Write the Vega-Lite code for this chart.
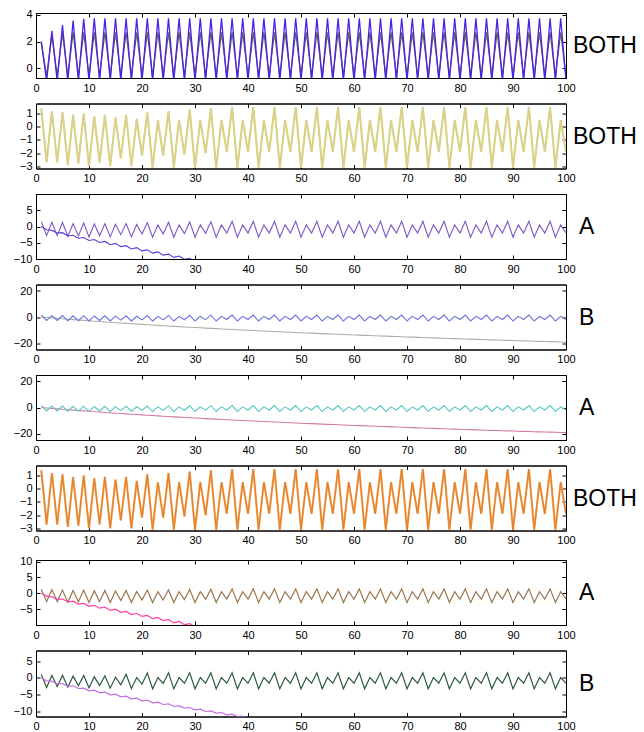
{
"$schema": "https://vega.github.io/schema/vega-lite/v6.json",
"autosize": {"type": "pad"},
"padding": {"left": 12, "top": 8, "right": 0, "bottom": 0},
"spacing": 8.5,
"background": "white",
"config": {
 "font": "Liberation Sans",
 "view": {"stroke": "#000", "strokeWidth": 1},
 "axis": {"grid": false, "domain": true, "domainColor": "#000", "domainWidth": 1, "tickColor": "#000", "tickSize": -4, "tickWidth": 1, "labelColor": "#000", "labelFontSize": 11, "labelFont": "Liberation Sans", "labelPadding": 8, "labelFlush": false, "labelOverlap": false, "titleColor": "#000", "titleFont": "Liberation Sans", "titleFontWeight": "normal", "titleFontSize": 23}
},
"datasets": {"d": [
{"x":1,"p1a":1.9,"p1b":2,"w":1.4,"p3a":1.5,"p3b":0,"f":0,"p7a":1.3,"p7b":0,"p8a":1.0,"p8b":0},
{"x":2,"p1a":-0.6,"p1b":-1,"w":-2.7,"p3a":-2.8,"p3b":-1.0,"f":-0.35,"p7a":-2.6,"p7b":-0.9,"p8a":-2.9,"p8b":-0.9},
{"x":3,"p1a":2.5,"p1b":2.8,"w":1.2,"p3a":1.3,"p3b":-1.2,"f":-0.69,"p7a":1.1,"p7b":-1.1,"p8a":0.7,"p8b":-1.0},
{"x":4,"p1a":-0.6,"p1b":-1,"w":-2.7,"p3a":-2.8,"p3b":-2.0,"f":-1.03,"p7a":-2.6,"p7b":-1.9,"p8a":-2.6,"p8b":-1.8},
{"x":5,"p1a":2.65,"p1b":3.25,"w":1.1,"p3a":1.2,"p3b":-1.9,"f":-1.36,"p7a":1.0,"p7b":-1.8,"p8a":0.8,"p8b":-1.7},
{"x":6,"p1a":-0.6,"p1b":-1,"w":-2.9,"p3a":-3.0,"p3b":-2.9,"f":-1.69,"p7a":-2.8,"p7b":-2.7,"p8a":-2.8,"p8b":-2.6},
{"x":7,"p1a":2.7,"p1b":3.58,"w":0.9,"p3a":0.9,"p3b":-2.7,"f":-2.01,"p7a":0.9,"p7b":-2.5,"p8a":0.5,"p8b":-2.4},
{"x":8,"p1a":-0.6,"p1b":-1,"w":-2.8,"p3a":-2.9,"p3b":-3.6,"f":-2.32,"p7a":-2.7,"p7b":-3.4,"p8a":-2.4,"p8b":-3.2},
{"x":9,"p1a":2.7,"p1b":3.72,"w":1.0,"p3a":1.1,"p3b":-3.4,"f":-2.63,"p7a":1.0,"p7b":-3.2,"p8a":0.7,"p8b":-3.1},
{"x":10,"p1a":-0.6,"p1b":-1,"w":-3.0,"p3a":-3.2,"p3b":-4.3,"f":-2.93,"p7a":-2.9,"p7b":-4.1,"p8a":-3.0,"p8b":-3.9},
{"x":11,"p1a":2.7,"p1b":3.75,"w":0.8,"p3a":0.8,"p3b":-4.0,"f":-3.23,"p7a":0.8,"p7b":-3.8,"p8a":0.3,"p8b":-3.7},
{"x":12,"p1a":-0.6,"p1b":-1,"w":-2.7,"p3a":-2.8,"p3b":-4.9,"f":-3.52,"p7a":-2.6,"p7b":-4.7,"p8a":-2.3,"p8b":-4.5},
{"x":13,"p1a":2.7,"p1b":3.75,"w":0.9,"p3a":0.9,"p3b":-4.6,"f":-3.81,"p7a":0.9,"p7b":-4.4,"p8a":0.6,"p8b":-4.3},
{"x":14,"p1a":-0.6,"p1b":-1,"w":-3.0,"p3a":-3.2,"p3b":-5.6,"f":-4.09,"p7a":-2.9,"p7b":-5.4,"p8a":-3.1,"p8b":-5.1},
{"x":15,"p1a":2.7,"p1b":3.75,"w":0.7,"p3a":0.7,"p3b":-5.2,"f":-4.37,"p7a":0.7,"p7b":-5.0,"p8a":0.2,"p8b":-4.9},
{"x":16,"p1a":-0.6,"p1b":-1,"w":-2.4,"p3a":-2.5,"p3b":-6.2,"f":-4.64,"p7a":-2.3,"p7b":-6.0,"p8a":-2.1,"p8b":-5.7},
{"x":17,"p1a":2.7,"p1b":3.75,"w":0.9,"p3a":0.9,"p3b":-5.9,"f":-4.91,"p7a":0.9,"p7b":-5.7,"p8a":1.1,"p8b":-5.5},
{"x":18,"p1a":-0.6,"p1b":-1,"w":-3.0,"p3a":-3.2,"p3b":-6.9,"f":-5.18,"p7a":-2.9,"p7b":-6.7,"p8a":-3.2,"p8b":-6.3},
{"x":19,"p1a":2.7,"p1b":3.75,"w":0.6,"p3a":0.6,"p3b":-6.5,"f":-5.44,"p7a":0.6,"p7b":-6.3,"p8a":0.1,"p8b":-6.1},
{"x":20,"p1a":-0.6,"p1b":-1,"w":-2.2,"p3a":-2.3,"p3b":-7.5,"f":-5.70,"p7a":-2.1,"p7b":-7.3,"p8a":-1.9,"p8b":-6.9},
{"x":21,"p1a":2.7,"p1b":3.75,"w":1.1,"p3a":1.2,"p3b":-7.2,"f":-5.96,"p7a":1.0,"p7b":-7.0,"p8a":1.5,"p8b":-6.7},
{"x":22,"p1a":-0.6,"p1b":-1,"w":-3.1,"p3a":-3.3,"p3b":-8.2,"f":-6.21,"p7a":-2.9,"p7b":-8.0,"p8a":-3.3,"p8b":-7.5},
{"x":23,"p1a":2.7,"p1b":3.75,"w":0.5,"p3a":0.5,"p3b":-7.8,"f":-6.45,"p7a":0.5,"p7b":-7.6,"p8a":0.1,"p8b":-7.3},
{"x":24,"p1a":-0.6,"p1b":-1,"w":-2.2,"p3a":-2.3,"p3b":-8.8,"f":-6.70,"p7a":-2.1,"p7b":-8.6,"p8a":-1.7,"p8b":-8.0},
{"x":25,"p1a":2.7,"p1b":3.75,"w":1.2,"p3a":1.3,"p3b":-8.5,"f":-6.94,"p7a":1.1,"p7b":-8.3,"p8a":1.5,"p8b":-7.8},
{"x":26,"p1a":-0.6,"p1b":-1,"w":-3.1,"p3a":-3.3,"p3b":-9.5,"f":-7.18,"p7a":-2.9,"p7b":-9.3,"p8a":-3.3,"p8b":-8.6},
{"x":27,"p1a":2.7,"p1b":3.75,"w":0.5,"p3a":0.5,"p3b":-9.1,"f":-7.41,"p7a":0.5,"p7b":-8.9,"p8a":0.1,"p8b":-8.4},
{"x":28,"p1a":-0.6,"p1b":-1,"w":-2.1,"p3a":-2.2,"p3b":-10.1,"f":-7.64,"p7a":-2.0,"p7b":-9.9,"p8a":-1.6,"p8b":-9.1},
{"x":29,"p1a":2.7,"p1b":3.75,"w":1.3,"p3a":1.4,"p3b":-9.8,"f":-7.87,"p7a":1.2,"p7b":-9.6,"p8a":1.5,"p8b":-8.9},
{"x":30,"p1a":-0.6,"p1b":-1,"w":-3.1,"p3a":-3.3,"p3b":-10.8,"f":-8.10,"p7a":-2.9,"p7b":-10.6,"p8a":-3.3,"p8b":-9.6},
{"x":31,"p1a":2.7,"p1b":3.75,"w":0.5,"p3a":0.5,"p3b":-10.4,"f":-8.32,"p7a":0.5,"p7b":-10.2,"p8a":0.1,"p8b":-9.4},
{"x":32,"p1a":-0.6,"p1b":-1,"w":-2.0,"p3a":-2.1,"p3b":-11.4,"f":-8.54,"p7a":-1.9,"p7b":-11.2,"p8a":-1.6,"p8b":-10.1},
{"x":33,"p1a":2.7,"p1b":3.75,"w":1.4,"p3a":1.5,"f":-8.76,"p7a":1.3,"p8a":1.5,"p8b":-9.9},
{"x":34,"p1a":-0.6,"p1b":-1,"w":-3.1,"p3a":-3.3,"f":-8.97,"p7a":-2.9,"p8a":-3.3,"p8b":-10.6},
{"x":35,"p1a":2.7,"p1b":3.75,"w":0.5,"p3a":0.5,"f":-9.18,"p7a":0.5,"p8a":0.1,"p8b":-10.4},
{"x":36,"p1a":-0.6,"p1b":-1,"w":-1.9,"p3a":-2.0,"f":-9.39,"p7a":-1.8,"p8a":-1.6,"p8b":-11.1},
{"x":37,"p1a":2.7,"p1b":3.75,"w":1.5,"p3a":1.6,"f":-9.60,"p7a":1.4,"p8a":1.5,"p8b":-10.9},
{"x":38,"p1a":-0.6,"p1b":-1,"w":-3.1,"p3a":-3.3,"f":-9.80,"p7a":-2.9,"p8a":-3.3,"p8b":-11.6},
{"x":39,"p1a":2.7,"p1b":3.75,"w":0.5,"p3a":0.5,"f":-10.01,"p7a":0.5,"p8a":0.1,"p8b":-11.5},
{"x":40,"p1a":-0.6,"p1b":-1,"w":-1.9,"p3a":-2.0,"f":-10.21,"p7a":-1.8,"p8a":-1.6,"p8b":-12.1},
{"x":41,"p1a":2.7,"p1b":3.75,"w":1.5,"p3a":1.6,"f":-10.40,"p7a":1.4,"p8a":1.5,"p8b":-12.0},
{"x":42,"p1a":-0.6,"p1b":-1,"w":-3.1,"p3a":-3.3,"f":-10.60,"p7a":-2.9,"p8a":-3.3},
{"x":43,"p1a":2.7,"p1b":3.75,"w":0.5,"p3a":0.5,"f":-10.79,"p7a":0.5,"p8a":0.1},
{"x":44,"p1a":-0.6,"p1b":-1,"w":-1.9,"p3a":-2.0,"f":-10.98,"p7a":-1.8,"p8a":-1.6},
{"x":45,"p1a":2.7,"p1b":3.75,"w":1.5,"p3a":1.6,"f":-11.17,"p7a":1.4,"p8a":1.5},
{"x":46,"p1a":-0.6,"p1b":-1,"w":-3.1,"p3a":-3.3,"f":-11.36,"p7a":-2.9,"p8a":-3.3},
{"x":47,"p1a":2.7,"p1b":3.75,"w":0.5,"p3a":0.5,"f":-11.55,"p7a":0.5,"p8a":0.1},
{"x":48,"p1a":-0.6,"p1b":-1,"w":-1.9,"p3a":-2.0,"f":-11.73,"p7a":-1.8,"p8a":-1.6},
{"x":49,"p1a":2.7,"p1b":3.75,"w":1.5,"p3a":1.6,"f":-11.91,"p7a":1.4,"p8a":1.5},
{"x":50,"p1a":-0.6,"p1b":-1,"w":-3.1,"p3a":-3.3,"f":-12.09,"p7a":-2.9,"p8a":-3.3},
{"x":51,"p1a":2.7,"p1b":3.75,"w":0.5,"p3a":0.5,"f":-12.27,"p7a":0.5,"p8a":0.1},
{"x":52,"p1a":-0.6,"p1b":-1,"w":-1.9,"p3a":-2.0,"f":-12.44,"p7a":-1.8,"p8a":-1.6},
{"x":53,"p1a":2.7,"p1b":3.75,"w":1.5,"p3a":1.6,"f":-12.62,"p7a":1.4,"p8a":1.5},
{"x":54,"p1a":-0.6,"p1b":-1,"w":-3.1,"p3a":-3.3,"f":-12.79,"p7a":-2.9,"p8a":-3.3},
{"x":55,"p1a":2.7,"p1b":3.75,"w":0.5,"p3a":0.5,"f":-12.96,"p7a":0.5,"p8a":0.1},
{"x":56,"p1a":-0.6,"p1b":-1,"w":-1.9,"p3a":-2.0,"f":-13.13,"p7a":-1.8,"p8a":-1.6},
{"x":57,"p1a":2.7,"p1b":3.75,"w":1.5,"p3a":1.6,"f":-13.30,"p7a":1.4,"p8a":1.5},
{"x":58,"p1a":-0.6,"p1b":-1,"w":-3.1,"p3a":-3.3,"f":-13.47,"p7a":-2.9,"p8a":-3.3},
{"x":59,"p1a":2.7,"p1b":3.75,"w":0.5,"p3a":0.5,"f":-13.63,"p7a":0.5,"p8a":0.1},
{"x":60,"p1a":-0.6,"p1b":-1,"w":-1.9,"p3a":-2.0,"f":-13.79,"p7a":-1.8,"p8a":-1.6},
{"x":61,"p1a":2.7,"p1b":3.75,"w":1.5,"p3a":1.6,"f":-13.96,"p7a":1.4,"p8a":1.5},
{"x":62,"p1a":-0.6,"p1b":-1,"w":-3.1,"p3a":-3.3,"f":-14.12,"p7a":-2.9,"p8a":-3.3},
{"x":63,"p1a":2.7,"p1b":3.75,"w":0.5,"p3a":0.5,"f":-14.28,"p7a":0.5,"p8a":0.1},
{"x":64,"p1a":-0.6,"p1b":-1,"w":-1.9,"p3a":-2.0,"f":-14.43,"p7a":-1.8,"p8a":-1.6},
{"x":65,"p1a":2.7,"p1b":3.75,"w":1.5,"p3a":1.6,"f":-14.59,"p7a":1.4,"p8a":1.5},
{"x":66,"p1a":-0.6,"p1b":-1,"w":-3.1,"p3a":-3.3,"f":-14.74,"p7a":-2.9,"p8a":-3.3},
{"x":67,"p1a":2.7,"p1b":3.75,"w":0.5,"p3a":0.5,"f":-14.90,"p7a":0.5,"p8a":0.1},
{"x":68,"p1a":-0.6,"p1b":-1,"w":-1.9,"p3a":-2.0,"f":-15.05,"p7a":-1.8,"p8a":-1.6},
{"x":69,"p1a":2.7,"p1b":3.75,"w":1.5,"p3a":1.6,"f":-15.20,"p7a":1.4,"p8a":1.5},
{"x":70,"p1a":-0.6,"p1b":-1,"w":-3.1,"p3a":-3.3,"f":-15.35,"p7a":-2.9,"p8a":-3.3},
{"x":71,"p1a":2.7,"p1b":3.75,"w":0.5,"p3a":0.5,"f":-15.50,"p7a":0.5,"p8a":0.1},
{"x":72,"p1a":-0.6,"p1b":-1,"w":-1.9,"p3a":-2.0,"f":-15.64,"p7a":-1.8,"p8a":-1.6},
{"x":73,"p1a":2.7,"p1b":3.75,"w":1.5,"p3a":1.6,"f":-15.79,"p7a":1.4,"p8a":1.5},
{"x":74,"p1a":-0.6,"p1b":-1,"w":-3.1,"p3a":-3.3,"f":-15.93,"p7a":-2.9,"p8a":-3.3},
{"x":75,"p1a":2.7,"p1b":3.75,"w":0.5,"p3a":0.5,"f":-16.08,"p7a":0.5,"p8a":0.1},
{"x":76,"p1a":-0.6,"p1b":-1,"w":-1.9,"p3a":-2.0,"f":-16.22,"p7a":-1.8,"p8a":-1.6},
{"x":77,"p1a":2.7,"p1b":3.75,"w":1.5,"p3a":1.6,"f":-16.36,"p7a":1.4,"p8a":1.5},
{"x":78,"p1a":-0.6,"p1b":-1,"w":-3.1,"p3a":-3.3,"f":-16.50,"p7a":-2.9,"p8a":-3.3},
{"x":79,"p1a":2.7,"p1b":3.75,"w":0.5,"p3a":0.5,"f":-16.64,"p7a":0.5,"p8a":0.1},
{"x":80,"p1a":-0.6,"p1b":-1,"w":-1.9,"p3a":-2.0,"f":-16.78,"p7a":-1.8,"p8a":-1.6},
{"x":81,"p1a":2.7,"p1b":3.75,"w":1.5,"p3a":1.6,"f":-16.91,"p7a":1.4,"p8a":1.5},
{"x":82,"p1a":-0.6,"p1b":-1,"w":-3.1,"p3a":-3.3,"f":-17.05,"p7a":-2.9,"p8a":-3.3},
{"x":83,"p1a":2.7,"p1b":3.75,"w":0.5,"p3a":0.5,"f":-17.18,"p7a":0.5,"p8a":0.1},
{"x":84,"p1a":-0.6,"p1b":-1,"w":-1.9,"p3a":-2.0,"f":-17.32,"p7a":-1.8,"p8a":-1.6},
{"x":85,"p1a":2.7,"p1b":3.75,"w":1.5,"p3a":1.6,"f":-17.45,"p7a":1.4,"p8a":1.5},
{"x":86,"p1a":-0.6,"p1b":-1,"w":-3.1,"p3a":-3.3,"f":-17.58,"p7a":-2.9,"p8a":-3.3},
{"x":87,"p1a":2.7,"p1b":3.75,"w":0.5,"p3a":0.5,"f":-17.71,"p7a":0.5,"p8a":0.1},
{"x":88,"p1a":-0.6,"p1b":-1,"w":-1.9,"p3a":-2.0,"f":-17.84,"p7a":-1.8,"p8a":-1.6},
{"x":89,"p1a":2.7,"p1b":3.75,"w":1.5,"p3a":1.6,"f":-17.97,"p7a":1.4,"p8a":1.5},
{"x":90,"p1a":-0.6,"p1b":-1,"w":-3.1,"p3a":-3.3,"f":-18.10,"p7a":-2.9,"p8a":-3.3},
{"x":91,"p1a":2.7,"p1b":3.75,"w":0.5,"p3a":0.5,"f":-18.22,"p7a":0.5,"p8a":0.1},
{"x":92,"p1a":-0.6,"p1b":-1,"w":-1.9,"p3a":-2.0,"f":-18.35,"p7a":-1.8,"p8a":-1.6},
{"x":93,"p1a":2.7,"p1b":3.75,"w":1.5,"p3a":1.6,"f":-18.48,"p7a":1.4,"p8a":1.5},
{"x":94,"p1a":-0.6,"p1b":-1,"w":-3.1,"p3a":-3.3,"f":-18.60,"p7a":-2.9,"p8a":-3.3},
{"x":95,"p1a":2.7,"p1b":3.75,"w":0.5,"p3a":0.5,"f":-18.72,"p7a":0.5,"p8a":0.1},
{"x":96,"p1a":-0.6,"p1b":-1,"w":-1.9,"p3a":-2.0,"f":-18.84,"p7a":-1.8,"p8a":-1.6},
{"x":97,"p1a":2.7,"p1b":3.75,"w":1.5,"p3a":1.6,"f":-18.97,"p7a":1.4,"p8a":1.5},
{"x":98,"p1a":-0.6,"p1b":-1,"w":-3.1,"p3a":-3.3,"f":-19.09,"p7a":-2.9,"p8a":-3.3},
{"x":99,"p1a":2.7,"p1b":3.75,"w":0.5,"p3a":0.5,"f":-19.21,"p7a":0.5,"p8a":0.1},
{"x":100,"p1a":-0.6,"p1b":-1,"w":-1.9,"p3a":-2.0,"f":-19.33,"p7a":-1.8,"p8a":-1.6}
]},
"data": {"name": "d"},
"vconcat": [
{"width": 530, "height": 65, "resolve": {"axis": {"x": "independent", "y": "independent"}},
 "layer": [
  {"mark": {"type": "line", "color": "#646450", "strokeWidth": 1.3, "clip": true},
   "encoding": {"x": {"field": "x", "type": "quantitative", "scale": {"domain": [0, 100], "nice": false, "zero": false}, "axis": {"orient": "bottom", "values": [0,10,20,30,40,50,60,70,80,90,100], "title": null}},
    "y": {"field": "p1a", "type": "quantitative", "scale": {"domain": [-0.75, 4.15], "nice": false, "zero": false}, "axis": {"orient": "left", "values": [0,2,4], "title": null}}}},
  {"mark": {"type": "line", "color": "#4b21e8", "strokeWidth": 1.3, "clip": true},
   "encoding": {"x": {"field": "x", "type": "quantitative", "axis": {"orient": "top", "values": [0,10,20,30,40,50,60,70,80,90,100], "labels": false, "title": null}},
    "y": {"field": "p1b", "type": "quantitative", "axis": {"orient": "right", "values": [0,2,4], "labels": false, "title": "BOTH", "titleAngle": 0, "titleAlign": "left", "titleBaseline": "middle", "titlePadding": 6}}}}
 ]},
{"width": 530, "height": 65, "resolve": {"axis": {"x": "independent", "y": "independent"}},
 "layer": [
  {"mark": {"type": "line", "color": "#bde65a", "strokeWidth": 2, "clip": true},
   "encoding": {"x": {"field": "x", "type": "quantitative", "scale": {"domain": [0, 100], "nice": false, "zero": false}, "axis": {"orient": "bottom", "values": [0,10,20,30,40,50,60,70,80,90,100], "title": null}},
    "y": {"field": "w", "type": "quantitative", "scale": {"domain": [-3.17, 1.77], "nice": false, "zero": false}, "axis": {"orient": "left", "values": [-3,-2,-1,0,1], "title": null}}}},
  {"mark": {"type": "line", "color": "#e6c99a", "strokeWidth": 1.4, "clip": true},
   "encoding": {"x": {"field": "x", "type": "quantitative", "axis": {"orient": "top", "values": [0,10,20,30,40,50,60,70,80,90,100], "labels": false, "title": null}},
    "y": {"field": "w", "type": "quantitative", "axis": {"orient": "right", "values": [-3,-2,-1,0,1], "labels": false, "title": "BOTH", "titleAngle": 0, "titleAlign": "left", "titleBaseline": "middle", "titlePadding": 6}}}}
 ]},
{"width": 530, "height": 65, "resolve": {"axis": {"x": "independent", "y": "independent"}},
 "layer": [
  {"mark": {"type": "line", "color": "#7d55c7", "strokeWidth": 1.1, "clip": true},
   "encoding": {"x": {"field": "x", "type": "quantitative", "scale": {"domain": [0, 100], "nice": false, "zero": false}, "axis": {"orient": "bottom", "values": [0,10,20,30,40,50,60,70,80,90,100], "title": null}},
    "y": {"field": "p3a", "type": "quantitative", "scale": {"domain": [-10, 10], "nice": false, "zero": false}, "axis": {"orient": "left", "values": [-10,-5,0,5], "title": null}}}},
  {"mark": {"type": "line", "color": "#5b3bd6", "strokeWidth": 1.1, "clip": true},
   "encoding": {"x": {"field": "x", "type": "quantitative", "axis": {"orient": "top", "values": [0,10,20,30,40,50,60,70,80,90,100], "labels": false, "title": null}},
    "y": {"field": "p3b", "type": "quantitative", "axis": {"orient": "right", "values": [-10,-5,0,5], "labels": false, "title": "A", "titleAngle": 0, "titleAlign": "left", "titleBaseline": "middle", "titlePadding": 12}}}}
 ]},
{"width": 530, "height": 65, "resolve": {"axis": {"x": "independent", "y": "independent"}},
 "layer": [
  {"mark": {"type": "line", "color": "#a9b0a9", "strokeWidth": 1.1, "clip": true},
   "encoding": {"x": {"field": "x", "type": "quantitative", "scale": {"domain": [0, 100], "nice": false, "zero": false}, "axis": {"orient": "bottom", "values": [0,10,20,30,40,50,60,70,80,90,100], "title": null}},
    "y": {"field": "f", "type": "quantitative", "scale": {"domain": [-25, 25], "nice": false, "zero": false}, "axis": {"orient": "left", "values": [-20,0,20], "title": null}}}},
  {"mark": {"type": "line", "color": "#6f6fe0", "strokeWidth": 1.1, "clip": true},
   "encoding": {"x": {"field": "x", "type": "quantitative", "axis": {"orient": "top", "values": [0,10,20,30,40,50,60,70,80,90,100], "labels": false, "title": null}},
    "y": {"field": "w", "type": "quantitative", "axis": {"orient": "right", "values": [-20,0,20], "labels": false, "title": "B", "titleAngle": 0, "titleAlign": "left", "titleBaseline": "middle", "titlePadding": 12}}}}
 ]},
{"width": 530, "height": 65, "resolve": {"axis": {"x": "independent", "y": "independent"}},
 "layer": [
  {"mark": {"type": "line", "color": "#d67ba8", "strokeWidth": 1.1, "clip": true},
   "encoding": {"x": {"field": "x", "type": "quantitative", "scale": {"domain": [0, 100], "nice": false, "zero": false}, "axis": {"orient": "bottom", "values": [0,10,20,30,40,50,60,70,80,90,100], "title": null}},
    "y": {"field": "f", "type": "quantitative", "scale": {"domain": [-25, 25], "nice": false, "zero": false}, "axis": {"orient": "left", "values": [-20,0,20], "title": null}}}},
  {"mark": {"type": "line", "color": "#55c9bd", "strokeWidth": 1.1, "clip": true},
   "encoding": {"x": {"field": "x", "type": "quantitative", "axis": {"orient": "top", "values": [0,10,20,30,40,50,60,70,80,90,100], "labels": false, "title": null}},
    "y": {"field": "w", "type": "quantitative", "axis": {"orient": "right", "values": [-20,0,20], "labels": false, "title": "A", "titleAngle": 0, "titleAlign": "left", "titleBaseline": "middle", "titlePadding": 12}}}}
 ]},
{"width": 530, "height": 65, "resolve": {"axis": {"x": "independent", "y": "independent"}},
 "layer": [
  {"mark": {"type": "line", "color": "#f3b36b", "strokeWidth": 2.2, "clip": true},
   "encoding": {"x": {"field": "x", "type": "quantitative", "scale": {"domain": [0, 100], "nice": false, "zero": false}, "axis": {"orient": "bottom", "values": [0,10,20,30,40,50,60,70,80,90,100], "title": null}},
    "y": {"field": "w", "type": "quantitative", "scale": {"domain": [-3.17, 1.77], "nice": false, "zero": false}, "axis": {"orient": "left", "values": [-3,-2,-1,0,1], "title": null}}}},
  {"mark": {"type": "line", "color": "#e4802e", "strokeWidth": 1.3, "clip": true},
   "encoding": {"x": {"field": "x", "type": "quantitative", "axis": {"orient": "top", "values": [0,10,20,30,40,50,60,70,80,90,100], "labels": false, "title": null}},
    "y": {"field": "w", "type": "quantitative", "axis": {"orient": "right", "values": [-3,-2,-1,0,1], "labels": false, "title": "BOTH", "titleAngle": 0, "titleAlign": "left", "titleBaseline": "middle", "titlePadding": 6}}}}
 ]},
{"width": 530, "height": 65, "resolve": {"axis": {"x": "independent", "y": "independent"}},
 "layer": [
  {"mark": {"type": "line", "color": "#9c7650", "strokeWidth": 1.2, "clip": true},
   "encoding": {"x": {"field": "x", "type": "quantitative", "scale": {"domain": [0, 100], "nice": false, "zero": false}, "axis": {"orient": "bottom", "values": [0,10,20,30,40,50,60,70,80,90,100], "title": null}},
    "y": {"field": "p7a", "type": "quantitative", "scale": {"domain": [-10, 10.5], "nice": false, "zero": false}, "axis": {"orient": "left", "values": [-5,0,5,10], "title": null}}}},
  {"mark": {"type": "line", "color": "#ff40a0", "strokeWidth": 1.2, "clip": true},
   "encoding": {"x": {"field": "x", "type": "quantitative", "axis": {"orient": "top", "values": [0,10,20,30,40,50,60,70,80,90,100], "labels": false, "title": null}},
    "y": {"field": "p7b", "type": "quantitative", "axis": {"orient": "right", "values": [-5,0,5,10], "labels": false, "title": "A", "titleAngle": 0, "titleAlign": "left", "titleBaseline": "middle", "titlePadding": 12}}}}
 ]},
{"width": 530, "height": 66, "resolve": {"axis": {"x": "independent", "y": "independent"}},
 "layer": [
  {"mark": {"type": "line", "color": "#2e5a3c", "strokeWidth": 1.2, "clip": true},
   "encoding": {"x": {"field": "x", "type": "quantitative", "scale": {"domain": [0, 100], "nice": false, "zero": false}, "axis": {"orient": "bottom", "values": [0,10,20,30,40,50,60,70,80,90,100], "title": null}},
    "y": {"field": "p8a", "type": "quantitative", "scale": {"domain": [-11.6, 8.2], "nice": false, "zero": false}, "axis": {"orient": "left", "values": [-10,-5,0,5], "title": null}}}},
  {"mark": {"type": "line", "color": "#c46ee6", "strokeWidth": 1.2, "clip": true},
   "encoding": {"x": {"field": "x", "type": "quantitative", "axis": {"orient": "top", "values": [0,10,20,30,40,50,60,70,80,90,100], "labels": false, "title": null}},
    "y": {"field": "p8b", "type": "quantitative", "axis": {"orient": "right", "values": [-10,-5,0,5], "labels": false, "title": "B", "titleAngle": 0, "titleAlign": "left", "titleBaseline": "middle", "titlePadding": 12}}}}
 ]}
]
}
